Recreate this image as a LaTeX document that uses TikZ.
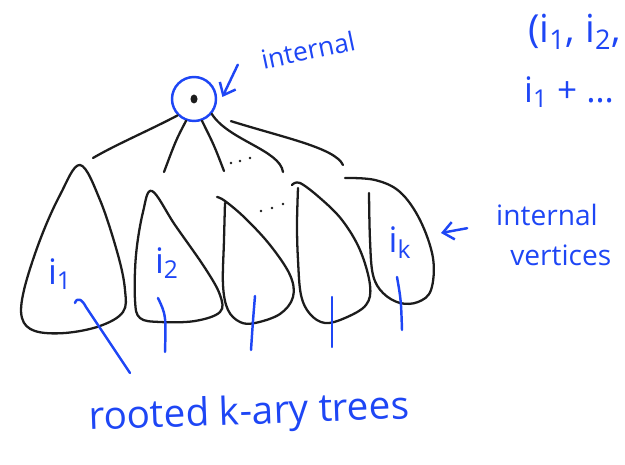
\documentclass[tikz,border=0pt]{standalone}
\usepackage{fontspec}
\newfontfamily\handfont{Open Sans}
\usetikzlibrary{arrows.meta,positioning}

\definecolor{penblue}{RGB}{30,70,245}
\definecolor{penblack}{RGB}{28,28,28}

\begin{document}
\begin{tikzpicture}[
    x=0.02cm, y=-0.02cm,
    every node/.style={font=\handfont, text=penblue},
    ink/.style={penblack, line width=1.3pt, line cap=round, line join=round},
    bluepen/.style={penblue, line width=1.4pt, line cap=round, line join=round},
    barb/.style={bluepen, -{Straight Barb[length=6pt,width=10pt]}},
    leaflabel/.style={font=\handfont\fontsize{20}{20}\selectfont}
]

\useasboundingbox (0,0) rectangle (625,465);

% Root vertex
\node[circle, draw=penblue, line width=1.4pt, minimum size=0.88cm, inner sep=0pt] (root) at (194,99) {};
\fill[penblack] (root.center) ellipse (3.5 and 4.5);

\node[rotate=12, font=\handfont\fontsize{15}{15}\selectfont] (rootlabel) at (308,50) {internal};
\draw[barb] ([shift={(-10pt,-2pt)}]rootlabel.west) -- ([xshift=3pt]root.5);

% Branches to the subtrees
\coordinate (b1) at (93,158);
\coordinate (b2) at (164,172);
\coordinate (b3) at (224,171);
\coordinate (b4) at (283,172);
\coordinate (b5) at (343,165);

\draw[ink] (root.225) .. controls (150,130) and (115,145) .. (b1);
\draw[ink] (root.250) .. controls (176,140) .. (b2);
\draw[ink] (root.290) .. controls (214,145) .. (b3);
\draw[ink] (root.320) .. controls (228,140) and (280,150) .. (b4);
\draw[ink] ([shift={(9pt,-7pt)}]root.335) .. controls (285,138) and (335,148) .. (b5);

% Dots
\foreach \x/\y in {231/163, 240/161, 250/158, 261/211, 272/208, 283/204} {
    \fill[penblack] (\x,\y) circle (1.4);
}

% Subtrees
\draw[ink] plot[smooth cycle, tension=0.6] coordinates {
    (80,165) (100,200) (118,255) (125,290) (123,312) (100,326)
    (65,333) (35,331) (22,318) (24,290) (40,240) (60,195)};
\draw[ink] plot[smooth cycle, tension=0.6] coordinates {
    (152,191) (175,225) (205,268) (220,295) (220,312) (195,321)
    (160,322) (140,318) (135,300) (136,255) (143,212)};
\draw[ink] plot[smooth, tension=0.6] coordinates {
    (217,197) (225,201) (245,218) (270,245) (290,275) (293,297)
    (280,314) (255,323) (240,322) (228,310) (223,285) (224,240) (225,203)};
\draw[ink] plot[smooth, tension=0.6] coordinates {
    (292,185) (300,183) (320,198) (342,220) (360,250) (370,285)
    (366,305) (345,318) (325,323) (310,314) (301,295) (298,260) (297,225) (298,188)};
\coordinate (ktree) at (441,233);
\draw[ink] plot[smooth, tension=0.6] coordinates {
    (345,178) (375,180) (400,192) (420,220) (433,258) (431,290)
    (418,302) (400,303) (383,293) (373,275) (370,240) (369,193)};

% Subtree labels
\node[leaflabel] (leafone) at (60,274) {i\textsubscript{1}};
\node[leaflabel] (leaftwo) at (167,263) {i\textsubscript{2}};
\node[leaflabel] (leafk) at (400,243) {i\textsubscript{k}};

% Stems
\draw[bluepen] (75,303) .. controls (77,297) and (82,299) .. (86,307) -- (130,373);
\draw[bluepen] (158,298) .. controls (166,315) .. (165,352);
\draw[bluepen] (255,296) .. controls (253,320) .. (251,350);
\draw[bluepen] (332,297) -- (332,347);
\draw[bluepen] (397,277) .. controls (401,300) .. (402,330);

% Notes
\node[font=\handfont\fontsize{16}{23}\selectfont, align=left, anchor=north west] (vertlabel) at (490,198) {internal\\\hspace*{8pt}vertices};
\draw[barb] ([shift={(-13pt,4pt)}]vertlabel.west) -- (ktree);

\node[font=\handfont\fontsize{22}{22}\selectfont, anchor=base west, rotate=2] (caption) at (83,430) {rooted k-ary trees};

\node[anchor=west, font=\handfont\fontsize{22}{22}\selectfont] (tuple) at (522,32) {(i\textsubscript{1}, i\textsubscript{2},};
\node[anchor=west, font=\handfont\fontsize{20}{20}\selectfont] (sumlabel) at (518,92) {i\textsubscript{1} + \dots};

\end{tikzpicture}
\end{document}
